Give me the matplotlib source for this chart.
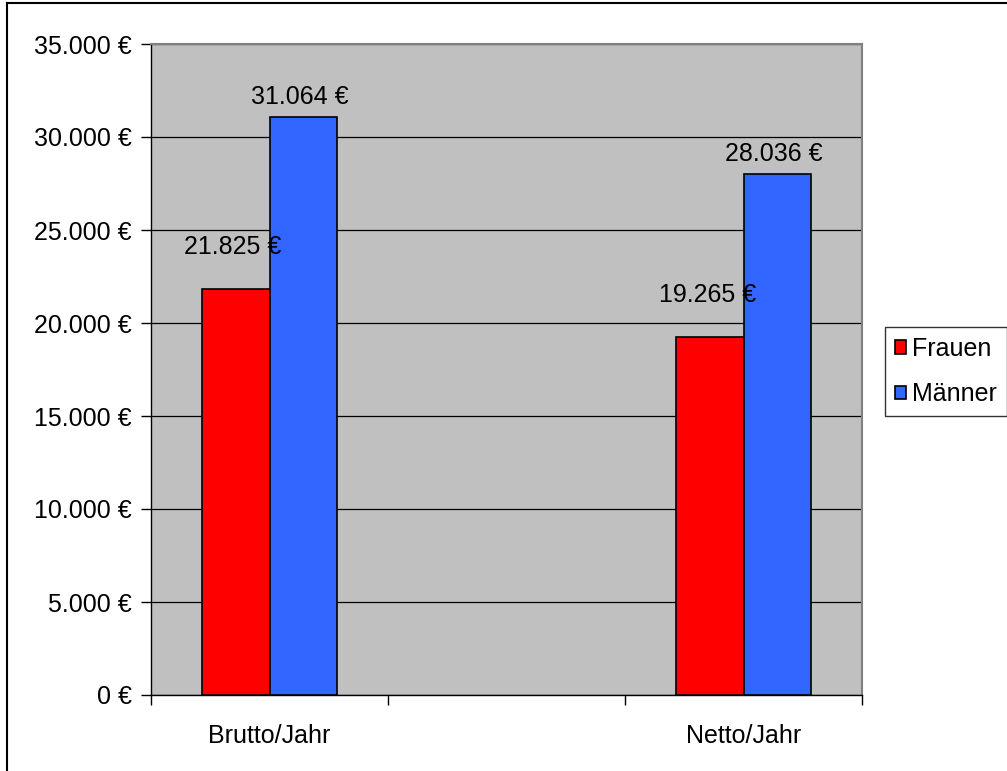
import matplotlib
matplotlib.use("Agg")
import matplotlib.pyplot as plt
import numpy as np
from matplotlib.patches import Patch
from matplotlib.lines import Line2D

plt.rcParams['font.family'] = ['Liberation Sans', 'DejaVu Sans']

categories = ["Brutto/Jahr", "", "Netto/Jahr"]
series_names = ["Frauen", "Männer"]
frauen = [21825, None, 19265]
maenner = [31064, None, 28036]
y_ticks = [0, 5000, 10000, 15000, 20000, 25000, 30000, 35000]

colors = {"Frauen": "#FF0000", "Männer": "#3366FF"}
# vertical offset (pixels) of each value label above its bar
label_offsets = {"Frauen": 42, "Männer": 20}
FS = 18

W, H, DPI = 1007, 771, 100
fig = plt.figure(figsize=(W / DPI, H / DPI), dpi=DPI)
fig.patch.set_facecolor("white")

ax = fig.add_axes([151 / W, 1 - 695 / H, (862 - 151) / W, (695 - 44) / H])
ax.set_facecolor("#C0C0C0")

def fmt(v):
    return f"{v:,.0f}".replace(",", ".") + " €"

x = np.arange(len(categories))
bar_w = 0.283
ax.set_xlim(-0.5, len(categories) - 0.5)
ax.set_ylim(0, 35000)

for i, (name, vals) in enumerate([("Frauen", frauen), ("Männer", maenner)]):
    for xi, v in zip(x, vals):
        if v is None:
            continue
        xc = xi + (i - 0.5) * bar_w
        ax.bar(xc, v, width=bar_w, color=colors[name], edgecolor="black",
               linewidth=1.2, zorder=3)
        ax.annotate(fmt(v), (xc, v), xytext=(-2, label_offsets[name] * 72 / DPI),
                    textcoords="offset points", ha="center", va="center",
                    fontsize=FS, zorder=4)

ax.set_yticks(y_ticks)
ax.set_yticklabels([fmt(t) for t in y_ticks], fontsize=FS)
ax.yaxis.grid(True, color="black", linewidth=0.9, zorder=1)
ax.set_axisbelow(True)

# category boundaries carry the tick marks, labels sit at centres
ax.set_xticks(np.arange(len(categories) + 1) - 0.5)
ax.set_xticklabels([])
ax.set_xticks(x, minor=True)
ax.set_xticklabels(categories, minor=True, fontsize=FS)
ax.tick_params(axis="x", which="minor", length=0, pad=21)
ax.tick_params(axis="x", which="major", length=7, width=1, direction="out")
ax.tick_params(axis="y", length=7, width=1, direction="out", pad=7)

for side in ("top", "right"):
    ax.spines[side].set_color("#808080")
    ax.spines[side].set_linewidth(1.5)
for side in ("left", "bottom"):
    ax.spines[side].set_color("black")
    ax.spines[side].set_linewidth(1)

# outer chart border
fig.add_artist(Line2D([7 / W, 7 / W], [0, 1 - 3 / H], color="black", linewidth=1.5,
                      transform=fig.transFigure))
fig.add_artist(Line2D([7 / W, 1], [1 - 3 / H, 1 - 3 / H], color="black", linewidth=1.5,
                      transform=fig.transFigure))

handles = [Patch(facecolor=colors[n], edgecolor="black", linewidth=1.2) for n in series_names]
leg = fig.legend(handles, series_names, loc="upper left",
                 bbox_to_anchor=(885 / W, 1 - 327 / H), fontsize=FS,
                 frameon=True, fancybox=False, edgecolor="black",
                 handlelength=0.45, handleheight=0.45, handletextpad=0.25,
                 borderpad=0.4, labelspacing=0.85, borderaxespad=0)
leg.get_frame().set_linewidth(1)

fig.savefig("out.png", dpi=DPI)
